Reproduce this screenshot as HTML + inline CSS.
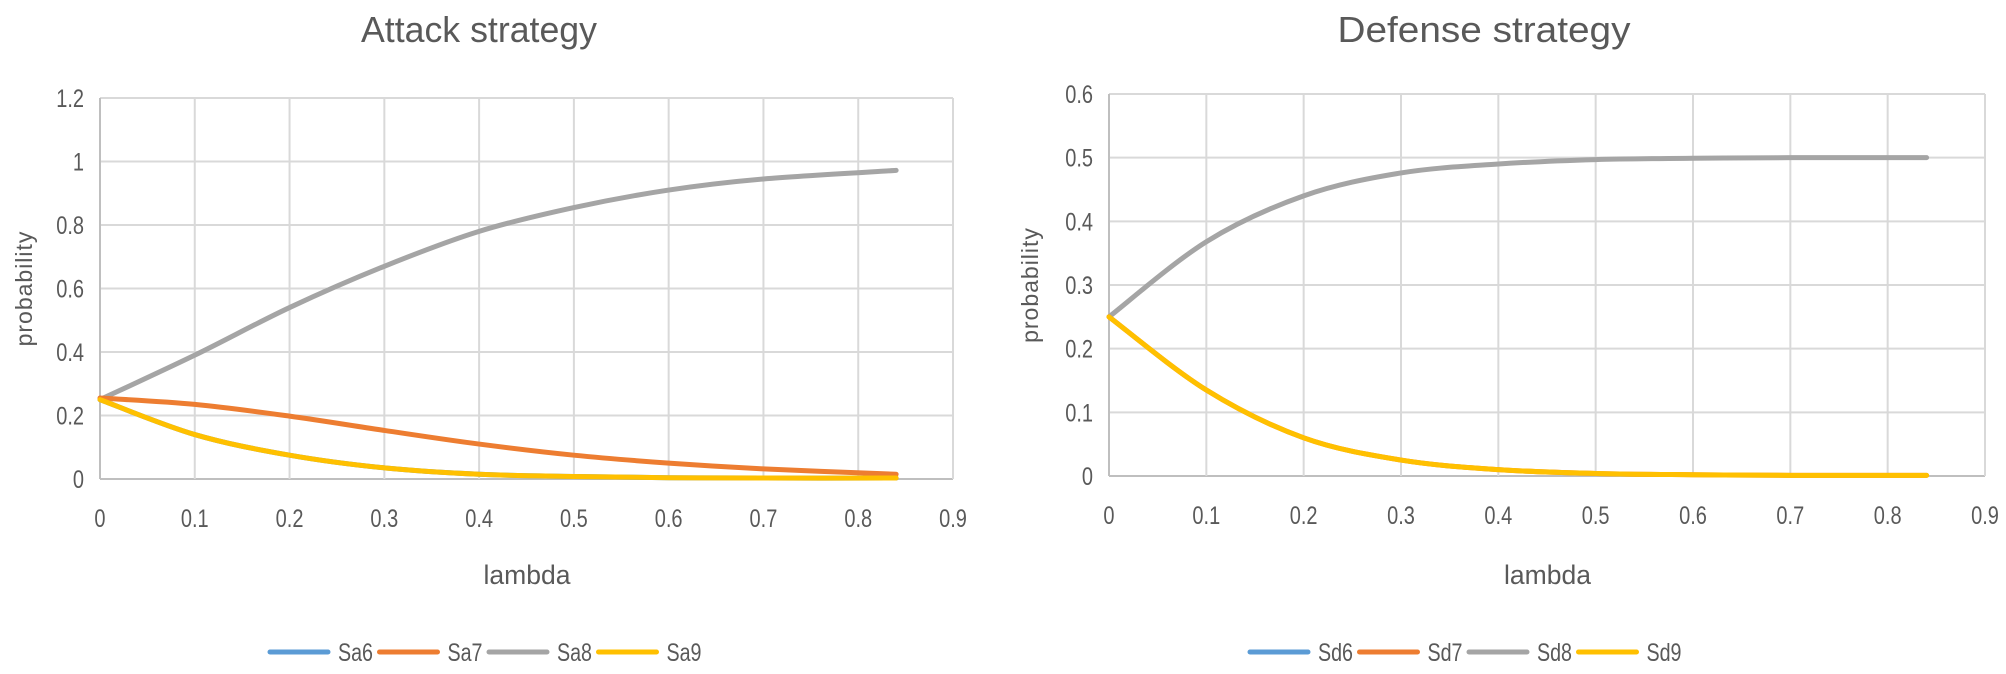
<!DOCTYPE html>
<html><head><meta charset="utf-8"><style>
html,body{margin:0;padding:0;background:#fff;}
svg{display:block;}
text{font-family:"Liberation Sans Narrow","Liberation Sans",sans-serif;fill:#595959;}
</style></head><body>
<svg id="s" width="2006" height="674" xmlns="http://www.w3.org/2000/svg"></svg>
<script>
const s=document.getElementById('s');let h='';
function chart(o){
 const {x0,x1,y0,y1,ymax,ystep,title,tx,tw,lx,series,leg,pl,names}=o;
 const xs=(x1-x0)/0.9, ys=(y0-y1)/ymax;
 const n=Math.round(ymax/ystep);
 for(let i=0;i<=n;i++){const y=y0-i*ystep*ys;
  h+=`<line x1="${x0}" y1="${y}" x2="${x1}" y2="${y}" stroke="${i==0?'#bfbfbf':'#d9d9d9'}" stroke-width="2"/>`;
  let v=+(i*ystep).toFixed(1); h+=`<text x="${x0-16}" y="${y+9}" font-size="25" text-anchor="end" transform="translate(${(x0-16)*0.2},0) scale(0.8,1)">${v}</text>`;}
 for(let i=0;i<=9;i++){const x=x0+i*0.1*xs;
  h+=`<line x1="${x}" y1="${y1}" x2="${x}" y2="${y0}" stroke="${i==0?'#bfbfbf':'#d9d9d9'}" stroke-width="2"/>`;
  let v=+(i*0.1).toFixed(1); h+=`<text x="${x}" y="${y0+48}" font-size="25" text-anchor="middle" transform="translate(${x*0.2},0) scale(0.8,1)">${v}</text>`;}
 h+=`<text x="${tx-tw/2}" y="42" font-size="36" textLength="${tw}" lengthAdjust="spacingAndGlyphs">${title}</text>`;
 h+=`<text x="${(x0+x1)/2-43}" y="584" font-size="27" textLength="87" lengthAdjust="spacingAndGlyphs">lambda</text>`;
 h+=`<text transform="translate(${pl},${(y0+y1)/2}) rotate(-90)" font-size="23" text-anchor="middle" font-family="Liberation Sans" letter-spacing="1">probability</text>`;
 for(const [c,pts] of series){
  const P=pts.map(p=>[x0+p[0]*xs,y0-p[1]*ys]);
  let d=`M${P[0][0]},${P[0][1]}`;
  for(let i=0;i<P.length-1;i++){const p0=P[i-1]||P[i],p1=P[i],p2=P[i+1],p3=P[i+2]||P[i+1];
   d+=` C${p1[0]+(p2[0]-p0[0])/6},${p1[1]+(p2[1]-p0[1])/6} ${p2[0]-(p3[0]-p1[0])/6},${p2[1]-(p3[1]-p1[1])/6} ${p2[0]},${p2[1]}`;}
  h+=`<path d="${d}" fill="none" stroke="${c}" stroke-width="5" stroke-linecap="round"/>`;}
 const cols=['#5b9bd5','#ed7d31','#a5a5a5','#ffc000'];
 for(let i=0;i<4;i++){const bx=leg+i*109.5;
  h+=`<line x1="${bx}" y1="652" x2="${bx+58}" y2="652" stroke="${cols[i]}" stroke-width="5" stroke-linecap="round"/>`;
  h+=`<text x="${bx+68}" y="661" font-size="25" textLength="35" lengthAdjust="spacingAndGlyphs">${names[i]}</text>`;}
}
const X=[0,0.1,0.2,0.3,0.4,0.5,0.6,0.7,0.84];
const z=(a)=>X.map((x,i)=>[x,a[i]]);
chart({x0:100,x1:953,y0:479,y1:98,ymax:1.2,ystep:0.2,title:'Attack strategy',tx:479,tw:236,pl:32,leg:270,names:['Sa6','Sa7','Sa8','Sa9'],
 series:[['#a5a5a5',z([0.25,0.39,0.54,0.67,0.78,0.855,0.91,0.945,0.972])],
 ['#5b9bd5',z([0.25,0.14,0.075,0.035,0.015,0.008,0.004,0.003,0.003])],
 ['#ed7d31',z([0.255,0.235,0.198,0.153,0.11,0.075,0.05,0.032,0.015])],
 ['#ffc000',z([0.25,0.14,0.075,0.035,0.015,0.008,0.004,0.003,0.003])]]});
chart({x0:1109,x1:1985,y0:476,y1:94,ymax:0.6,ystep:0.1,title:'Defense strategy',tx:1484,tw:293,pl:1038,leg:1250,names:['Sd6','Sd7','Sd8','Sd9'],
 series:[['#a5a5a5',z([0.25,0.368,0.44,0.476,0.49,0.497,0.499,0.5,0.5])],
 ['#ed7d31',z([0.25,0.135,0.06,0.025,0.01,0.004,0.002,0.001,0.001])],
 ['#ffc000',z([0.25,0.135,0.06,0.025,0.01,0.004,0.002,0.001,0.001])]]});
s.innerHTML=h;
</script>
</body></html>
